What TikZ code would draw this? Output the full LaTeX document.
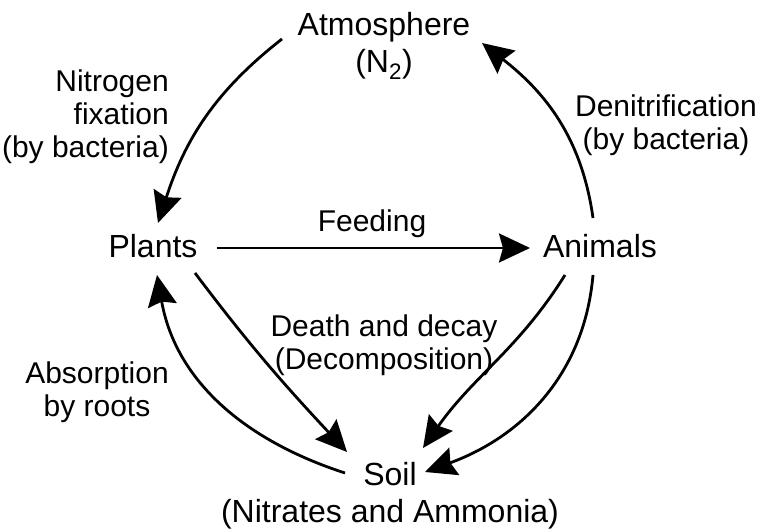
\documentclass[tikz,border=0pt]{standalone}
\usepackage{fontspec}
\setmainfont{Liberation Sans}
\usetikzlibrary{arrows.meta,calc}
\begin{document}
\begin{tikzpicture}[x=1pt,y=1pt,
  big/.style={inner sep=0pt,font=\fontsize{32}{37}\selectfont,align=center},
  lbl/.style={inner sep=0pt,font=\fontsize{30}{33}\selectfont,align=center},
  arr/.style={line width=2.8pt,-{Stealth[length=31pt,width=29pt,inset=4pt]}}]
\useasboundingbox (0,0) rectangle (764,532);
\fill[white] (0,0) rectangle (764,532);
% nodes
\node[big,anchor=north] (atm) at (384,520) {Atmosphere\\(N\textsubscript{2})};
\node[big,anchor=base] (plants) at (153,274) {Plants};
\node[big,anchor=base] (animals) at (600,274) {Animals};
\node[big,anchor=north] (soil) at (390,70) {Soil\\(Nitrates and Ammonia)};
% labels
\node[lbl,anchor=north east,align=right] (nfix) at (169,462) {Nitrogen\\fixation\\(by bacteria)};
\node[lbl,anchor=north] (denit) at (666,437) {Denitrification\\(by bacteria)};
\node[lbl,anchor=base] (feed) at (372,300) {Feeding};
\node[lbl,anchor=north] (death) at (384,217) {Death and decay\\(Decomposition)};
\node[lbl,anchor=north] (absorb) at (97,170) {Absorption\\by roots};
% connectors
\draw[arr] ($(atm.north)+(-102,-27)$) to[out=218,in=72] ($(plants.base)+(5,35)$);
\draw[arr] ($(plants.base)+(64,10)$) -- ($(animals.base)+(-70,10)$);
\draw[arr] ($(animals.base)+(-7,40)$) to[out=98,in=-38] ($(atm.north)+(98,-31)$);
\draw[arr] ($(plants.base)+(42,-15)$) to[out=-53,in=133] ($(soil.north)+(-43,10)$);
\draw[arr] ($(soil.north)+(-45,-11)$) to[out=162,in=-80] ($(plants.base)+(4,-17)$);
\draw[arr] ($(animals.base)+(-35,-17)$) to[out=238,in=55] ($(soil.north)+(33,14)$);
\draw[arr] ($(animals.base)+(-7,-17)$) to[out=-95,in=20] ($(soil.north)+(35,-10)$);
\end{tikzpicture}
\end{document}
